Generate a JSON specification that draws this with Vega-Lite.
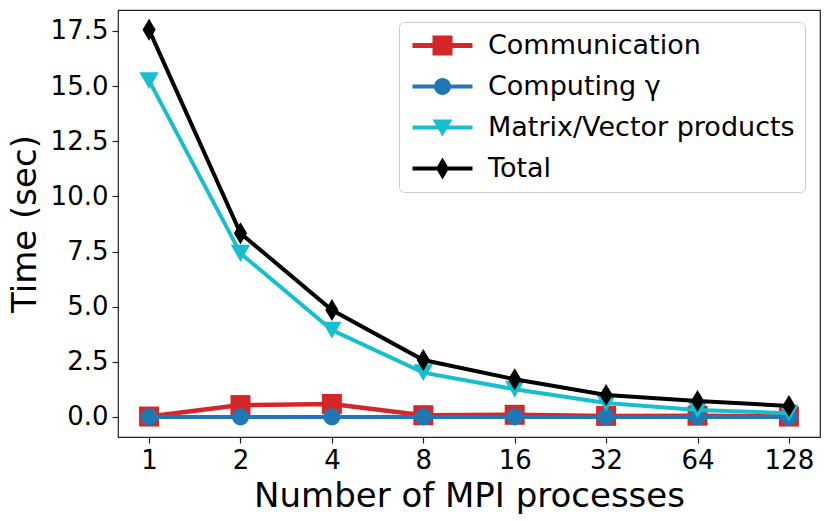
{
  "$schema": "https://vega.github.io/schema/vega-lite/v6.json",
  "autosize": {"type": "none"},
  "width": 702,
  "height": 427,
  "padding": {"left": 118, "top": 10, "right": 11, "bottom": 84},
  "background": "white",
  "data": {"values": [
    {"n": 1, "series": "Communication", "t": 0.02},
    {"n": 2, "series": "Communication", "t": 0.54},
    {"n": 4, "series": "Communication", "t": 0.59},
    {"n": 8, "series": "Communication", "t": 0.08},
    {"n": 16, "series": "Communication", "t": 0.1},
    {"n": 32, "series": "Communication", "t": 0.05},
    {"n": 64, "series": "Communication", "t": 0.06},
    {"n": 128, "series": "Communication", "t": 0.02},
    {"n": 1, "series": "Computing γ", "t": 0.005},
    {"n": 2, "series": "Computing γ", "t": 0.005},
    {"n": 4, "series": "Computing γ", "t": 0.005},
    {"n": 8, "series": "Computing γ", "t": 0.005},
    {"n": 16, "series": "Computing γ", "t": 0.005},
    {"n": 32, "series": "Computing γ", "t": 0.005},
    {"n": 64, "series": "Computing γ", "t": 0.005},
    {"n": 128, "series": "Computing γ", "t": 0.005},
    {"n": 1, "series": "Matrix/Vector products", "t": 15.25},
    {"n": 2, "series": "Matrix/Vector products", "t": 7.42},
    {"n": 4, "series": "Matrix/Vector products", "t": 3.94},
    {"n": 8, "series": "Matrix/Vector products", "t": 2.01},
    {"n": 16, "series": "Matrix/Vector products", "t": 1.26},
    {"n": 32, "series": "Matrix/Vector products", "t": 0.63},
    {"n": 64, "series": "Matrix/Vector products", "t": 0.32},
    {"n": 128, "series": "Matrix/Vector products", "t": 0.17},
    {"n": 1, "series": "Total", "t": 17.55},
    {"n": 2, "series": "Total", "t": 8.33},
    {"n": 4, "series": "Total", "t": 4.85},
    {"n": 8, "series": "Total", "t": 2.58},
    {"n": 16, "series": "Total", "t": 1.71},
    {"n": 32, "series": "Total", "t": 1.0},
    {"n": 64, "series": "Total", "t": 0.73},
    {"n": 128, "series": "Total", "t": 0.5}
  ]},
  "encoding": {
    "x": {"field": "n", "type": "ordinal", "sort": "ascending",
      "scale": {"type": "point", "padding": 0.34},
      "axis": {"title": "Number of MPI processes", "labelAngle": 0}},
    "y": {"field": "t", "type": "quantitative",
      "scale": {"domain": [-0.907, 18.45], "nice": false, "zero": false},
      "axis": {"title": "Time (sec)", "values": [0, 2.5, 5, 7.5, 10, 12.5, 15, 17.5], "format": ".1f"}},
    "color": {"field": "series", "type": "nominal",
      "scale": {"domain": ["Communication", "Computing γ", "Matrix/Vector products", "Total"],
                "range": ["#d62728", "#1f77b4", "#17becf", "#000000"]},
      "legend": {
        "title": null,
        "orient": "none", "legendX": 281, "legendY": 12,
        "fillColor": "white", "strokeColor": "#cccccc", "cornerRadius": 5,
        "padding": 10,
        "labelFont": "DejaVu Sans", "labelFontSize": 27, "labelColor": "black", "labelLimit": 0,
        "symbolSize": 400, "symbolOffset": 20, "labelOffset": 32, "rowPadding": 13,
        "encode": {
          "symbols": {"update": {
            "shape": {"signal": "datum.value === 'Communication' ? 'M-3,-0.24H3V0.24H-3Z M-1,-1H1V1H-1Z' : datum.value === 'Total' ? 'M-3,-0.2H3V0.2H-3Z M0,-1.1L0.65,0L0,1.1L-0.65,0Z' : datum.value === 'Matrix/Vector products' ? 'M-3,-0.2H3V0.2H-3Z M-1,-0.8L1,-0.8L0,0.9Z' : 'M-3,-0.2H3V0.2H-3Z M-0.85,0A0.85,0.85 0 1,1 0.85,0A0.85,0.85 0 1,1 -0.85,0Z'"},
            "fill": {"signal": "scale('color', datum.value)"},
            "stroke": {"value": "transparent"},
            "strokeWidth": {"value": 0},
            "opacity": {"value": 1},
            "fillOpacity": {"value": 1}
          }}
        }
      }}
  },
  "layer": [
    {"transform": [{"filter": "datum.series === 'Communication'"}],
     "mark": {"type": "line", "strokeWidth": 4.5}},
    {"transform": [{"filter": "datum.series === 'Communication'"}],
     "mark": {"type": "point", "shape": "square", "filled": true, "size": 400, "opacity": 1}},
    {"transform": [{"filter": "datum.series === 'Computing γ'"}],
     "mark": {"type": "line", "strokeWidth": 4}},
    {"transform": [{"filter": "datum.series === 'Computing γ'"}],
     "mark": {"type": "point", "shape": "circle", "filled": true, "size": 290, "opacity": 1}},
    {"transform": [{"filter": "datum.series === 'Matrix/Vector products'"}],
     "mark": {"type": "line", "strokeWidth": 4}},
    {"transform": [{"filter": "datum.series === 'Matrix/Vector products'"}],
     "mark": {"type": "point", "shape": "triangle-down", "filled": true, "size": 380, "opacity": 1}},
    {"transform": [{"filter": "datum.series === 'Total'"}],
     "mark": {"type": "line", "strokeWidth": 4}},
    {"transform": [{"filter": "datum.series === 'Total'"}],
     "mark": {"type": "point", "shape": "M0,-1L0.6,0L0,1L-0.6,0Z", "filled": true, "size": 484, "opacity": 1}}
  ],
  "config": {
    "font": "DejaVu Sans",
    "view": {"stroke": "#222222", "strokeWidth": 1.2},
    "axis": {
      "grid": false, "domain": false,
      "tickColor": "#222222", "tickSize": 6, "tickWidth": 1.2,
      "labelFont": "DejaVu Sans", "labelFontSize": 26, "labelColor": "black", "labelPadding": 4,
      "titleFont": "DejaVu Sans", "titleFontSize": 34, "titleFontWeight": "normal", "titleColor": "black"
    },
    "axisX": {"titlePadding": 6},
    "axisY": {"titlePadding": 8}
  }
}
